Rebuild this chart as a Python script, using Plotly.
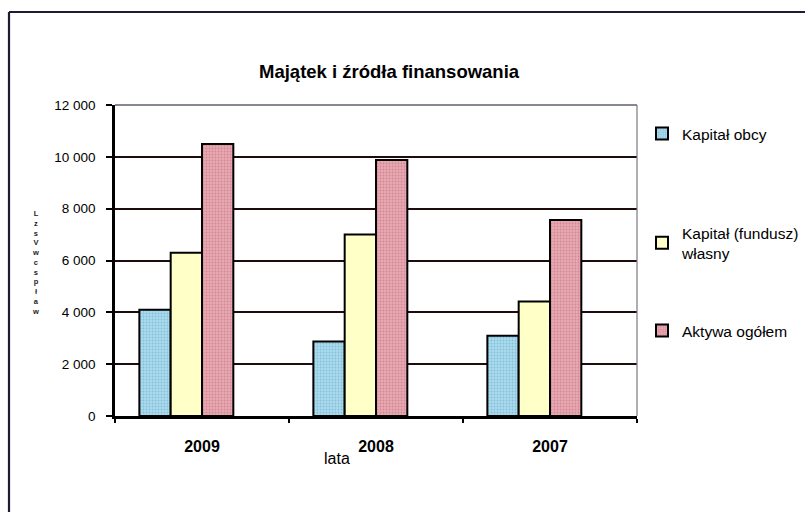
import plotly.graph_objects as go

# Data
lata = ["2009", "2008", "2007"]
kapital_obcy = [4100, 2870, 3100]
kapital_wlasny = [6300, 7000, 4420]
aktywa_ogolem = [10500, 9880, 7560]

y_ticks = [0, 2000, 4000, 6000, 8000, 10000, 12000]

FONT = "Arial, Liberation Sans, sans-serif"
W, H = 805, 512
L, R, T, B = 115, 168, 105, 96
PW, PH = W - L - R, H - T - B


def px_x(px):
    return (px - L) / PW


def px_y(py):
    return (H - B - py) / PH


bar_w = 0.18
series = [
    ("Kapitał obcy", kapital_obcy, "#aadbee", "#86bfd8", -0.36, "legend"),
    ("Kapitał (fundusz)<br>własny", kapital_wlasny, "#ffffc8", None, -0.18, "legend2"),
    ("Aktywa ogółem", aktywa_ogolem, "#e9a9b2", "#d08894", 0.0, "legend3"),
]

fig = go.Figure()
for name, vals, color, fg, off, leg in series:
    marker = dict(color=color, line=dict(color="black", width=2))
    if fg:
        marker["pattern"] = dict(shape=".", size=3, solidity=0.3,
                                 fgcolor=fg, bgcolor=color, fillmode="replace")
    fig.add_trace(go.Bar(
        x=lata, y=vals, name=name, marker=marker,
        width=bar_w, offset=off, legend=leg, showlegend=True,
    ))

legend_common = dict(
    font=dict(family=FONT, size=15.5, color="black"),
    bgcolor="rgba(0,0,0,0)", xanchor="left", yanchor="middle",
    itemclick=False, itemdoubleclick=False, visible=True,
    itemwidth=30,
)

fig.update_layout(
    width=W, height=H,
    margin=dict(l=L, r=R, t=T, b=B, autoexpand=False),
    paper_bgcolor="white", plot_bgcolor="white",
    separators=", ",
    barmode="overlay",
    showlegend=True,
    font=dict(family=FONT, color="black"),
    legend=dict(x=px_x(642), y=px_y(134), **legend_common),
    legend2=dict(x=px_x(642), y=px_y(243), **legend_common),
    legend3=dict(x=px_x(642), y=px_y(331), **legend_common),
    xaxis=dict(
        type="category", range=[-0.5, 2.5],
        showline=True, linecolor="black", linewidth=2.5,
        ticks="outside", tickson="boundaries", ticklen=4, tickwidth=2, tickcolor="black",
        tickfont=dict(family=FONT, size=16, color="black", weight="bold"),
        ticklabelstandoff=14,
        showgrid=False,
    ),
    yaxis=dict(
        range=[0, 12000], tickvals=y_ticks, tickformat=",d",
        showline=True, linecolor="black", linewidth=2.5,
        ticks="outside", ticklen=6, tickwidth=2, tickcolor="black",
        tickfont=dict(family=FONT, size=13.5, color="black"),
        ticklabelstandoff=8,
        showgrid=True, gridcolor="#1e0b0b", gridwidth=2,
        zeroline=False,
    ),
    shapes=[
        # plot-area frame (top and right)
        dict(type="line", xref="paper", yref="paper", x0=0, x1=1, y0=1, y1=1,
             line=dict(color="#5a6070", width=1.5)),
        dict(type="line", xref="paper", yref="paper", x0=1, x1=1, y0=0, y1=1,
             line=dict(color="#7a7a80", width=1.2)),
        # outer chart frame
        dict(type="line", xref="paper", yref="paper",
             x0=px_x(9), x1=px_x(812), y0=px_y(12), y1=px_y(12),
             line=dict(color="#1c1c34", width=2.2)),
        dict(type="line", xref="paper", yref="paper",
             x0=px_x(9), x1=px_x(9), y0=px_y(12), y1=px_y(520),
             line=dict(color="#1c1c34", width=2.2)),
    ],
    annotations=[
        dict(text="<b>Majątek i źródła finansowania</b>", xref="paper", yref="paper",
             x=px_x(389), y=px_y(72), showarrow=False, xanchor="center", yanchor="middle",
             font=dict(family=FONT, size=18.5, color="black")),
        dict(text="lata", xref="paper", yref="paper",
             x=px_x(337), y=px_y(458), showarrow=False, xanchor="center", yanchor="middle",
             font=dict(family=FONT, size=16, color="black")),
        dict(text="<b>L<br>z<br>s<br>V<br>w<br>c<br>s<br>p<br>ł<br>a<br>w</b>",
             xref="paper", yref="paper", x=px_x(35), y=px_y(262),
             showarrow=False, xanchor="center", yanchor="middle",
             font=dict(family=FONT, size=7.5, color="#222"), align="center"),
    ],
)

fig.write_html("out.html")
